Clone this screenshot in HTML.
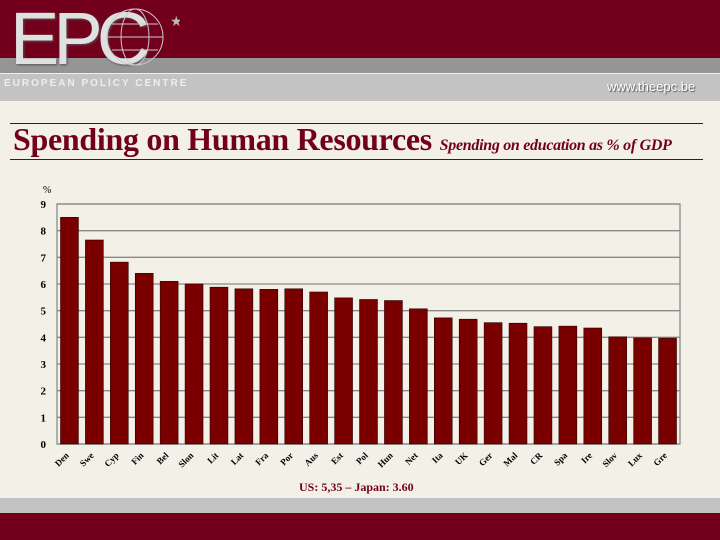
<!DOCTYPE html>
<html><head><meta charset="utf-8"><style>
body{margin:0;width:720px;height:540px;overflow:hidden;background:#f3f0e8;font-family:"Liberation Serif",serif;position:relative}
div{position:absolute}
</style></head><body>
<div style="left:0;top:0;width:720px;height:58px;background:#72001c"></div>
<div style="left:0;top:58px;width:720px;height:15px;background:#959595"></div>
<div style="left:0;top:73px;width:720px;height:27px;background:#c3c3c3;border-top:1px solid #eee"></div>
<div style="left:10px;top:-6px;font:74px 'Liberation Sans',sans-serif;color:#e0e0e0;letter-spacing:-6px;line-height:90px;text-shadow:1px 1px 2px #555">EPC</div>
<svg width="80" height="80" style="position:absolute;left:100px;top:2px"><circle cx="35" cy="35" r="28" fill="none" stroke="#ccc" stroke-width="1"/><ellipse cx="35" cy="35" rx="14" ry="28" fill="none" stroke="#ccc"/><line x1="7" y1="35" x2="63" y2="35" stroke="#ccc"/><line x1="12" y1="22" x2="58" y2="22" stroke="#ccc"/><line x1="12" y1="48" x2="58" y2="48" stroke="#ccc"/><text x="70" y="24" fill="#bbb" font-size="14">★</text></svg>
<div style="left:4px;top:78px;font:bold 10px 'Liberation Sans',sans-serif;color:#eee;letter-spacing:2px">EUROPEAN POLICY CENTRE</div>
<div style="left:607px;top:79px;font:13px 'Liberation Sans',sans-serif;color:#fff;text-shadow:1px 1px 1px #555">www.theepc.be</div>
<div style="left:10px;top:123px;width:693px;height:1px;background:#72001c"></div>
<div style="left:10px;top:159px;width:693px;height:1px;background:#72001c"></div>
<div style="left:13px;top:121px;font-size:32px;font-weight:bold;color:#72001c;white-space:nowrap;letter-spacing:-0.3px">Spending on Human Resources <span style="font-size:16px;font-style:italic">Spending on education as % of GDP</span></div>
<div style="left:0;top:498px;width:720px;height:15px;background:#c3c3c3"></div>
<div style="left:0;top:513px;width:720px;height:27px;background:#72001c"></div>
<svg id="chart" width="720" height="540" style="position:absolute;left:0;top:0"></svg>
<div style="left:299px;top:480px;font-size:12px;font-weight:bold;color:#72001c">US: 5,35 – Japan: 3.60</div>
<script>
const categories=["Den","Swe","Cyp","Fin","Bel","Slon","Lit","Lat","Fra","Por","Aus","Est","Pol","Hun","Net","Ita","UK","Ger","Mal","CR","Spa","Ire","Slov","Lux","Gre"];
const values=[8.5,7.65,6.82,6.4,6.1,6.0,5.88,5.82,5.8,5.82,5.7,5.48,5.42,5.38,5.07,4.73,4.68,4.55,4.53,4.4,4.42,4.35,4.02,3.98,3.97];
const yTicks=[0,1,2,3,4,5,6,7,8,9];
const svg=document.getElementById('chart'),NS='http://www.w3.org/2000/svg';
const L=57,R=680,T=204,B=444,ymax=9;
const y=v=>B-(v/ymax)*(B-T);
const bw=(R-L)/categories.length;
const x=i=>L+i*bw;
function mk(t,a){const e=document.createElementNS(NS,t);for(const k in a)e.setAttribute(k,a[k]);svg.appendChild(e);return e;}
yTicks.forEach(v=>{
  const g=mk('line',{x1:L,x2:R,y1:y(v),y2:y(v),stroke:'#8a8a8a','stroke-width':1.3});
  
  
  const t=mk('text',{x:L-11,y:y(v)+4,'text-anchor':'end','font-size':11,'font-weight':'bold','font-family':'Liberation Serif'});
  t.textContent=v;
  
  
});
const fr=mk('rect',{x:L,y:T,width:R-L,height:B-T,fill:'none',stroke:'#8a8a8a','stroke-width':1.3});


const u=mk('text',{x:43,y:193,'font-size':10,'font-family':'Liberation Serif'});u.textContent='%';


categories.forEach((c,i)=>{
  const r=mk('rect',{x:x(i)+3.5,y:y(values[i]),width:bw-7,height:B-y(values[i]),fill:'#7a0000',stroke:'#2a0000','stroke-width':0.6});
  
  
  const cx=x(i)+bw/2;
  const t=mk('text',{x:cx,y:B+12,'text-anchor':'end','font-size':9,'font-weight':'bold','font-family':'Liberation Serif',transform:`rotate(-45 ${cx} ${B+12})`});
  t.textContent=c;
  
  
});
</script>
</body></html>
